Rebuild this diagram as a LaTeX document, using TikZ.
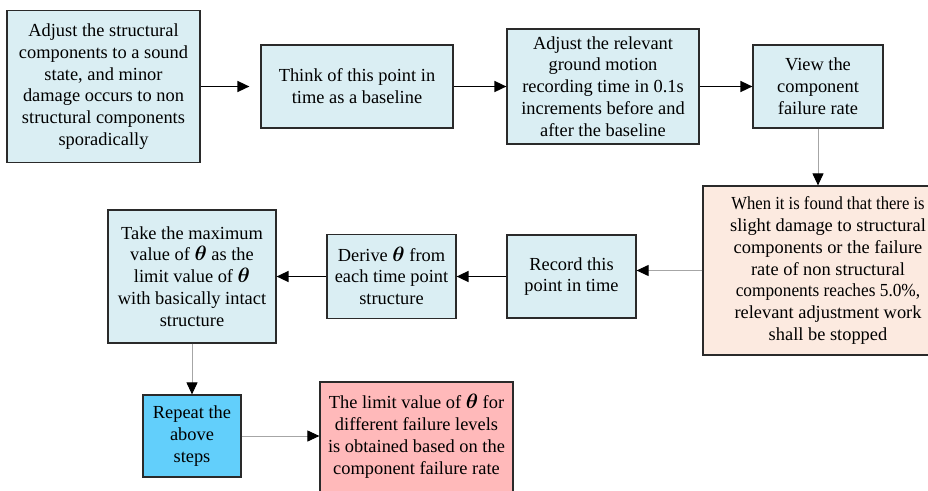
\documentclass[tikz,border=0pt]{standalone}
\usepackage{fontspec}
\setmainfont{Liberation Serif}
\usepackage{amsmath,bm,graphicx}
\usetikzlibrary{arrows.meta}
\definecolor{lb}{HTML}{DAEEF3}
\definecolor{pe}{HTML}{FCEAE0}
\definecolor{cy}{HTML}{62CFFB}
\definecolor{pk}{HTML}{FFB9BA}
\definecolor{bd}{HTML}{2A2A2A}
\definecolor{gl}{HTML}{A6A6A6}
\newcommand{\Th}{\smash{\fontsize{22}{21.5}\selectfont$\bm{\theta}$}}
\begin{document}
\begin{tikzpicture}[x=1pt,y=-1pt,
  box/.style={draw=bd, line width=1.2pt, fill=lb, inner sep=0pt, align=center,
    font=\fontsize{18.4}{21.8}\selectfont},
  darr/.style={draw=black, line width=1.6pt, -{Triangle[length=12pt,width=11pt]}},
  garr/.style={draw=gl, line width=1pt, -{Triangle[length=12pt,width=11pt,color=black]}}]
\useasboundingbox (0,0) rectangle (928,490);
\fill[white] (0,0) rectangle (928,490);
\node[box, minimum width=193pt, minimum height=152pt] (b1) at (103.5,86.5)
  {Adjust the structural\\components to a sound\\state, and minor\\damage occurs to non\\structural components\\sporadically};
\node[box, minimum width=192pt, minimum height=83pt] (b2) at (357,86.5)
  {Think of this point in\\time as a baseline};
\node[box, minimum width=192pt, minimum height=115pt] (b3) at (603,86.5)
  {Adjust the relevant\\ground motion\\recording time in 0.1s\\increments before and\\after the baseline};
\node[box, minimum width=130pt, minimum height=83pt] (b4) at (818,86.5)
  {View the\\component\\failure rate};
\node[box, fill=pe, minimum width=250pt, minimum height=169pt] (b5) at (828,270.5)
  {\scalebox{0.905}[1]{When it is found that there is}\\slight damage to structural\\components or the failure\\rate of non structural\\\scalebox{0.94}[1]{components reaches 5.0\%,}\\relevant adjustment work\\shall be stopped};
\node[box, minimum width=129pt, minimum height=83pt] (b6) at (571.5,276.5)
  {Record this\\point in time};
\node[box, minimum width=129pt, minimum height=84pt] (b7) at (391.5,276.5)
  {Derive \Th{} from\\each time point\\structure};
\node[box, minimum width=168pt, minimum height=133pt] (b8) at (192,276.5)
  {Take the maximum\\value of \Th{} as the\\limit value of \Th\\with basically intact\\structure};
\node[box, fill=cy, minimum width=98pt, minimum height=82pt] (b9) at (192,436)
  {Repeat the\\above\\steps};
\node[box, fill=pk, minimum width=193pt, minimum height=110pt] (b10) at (416.5,437)
  {The limit value of \Th{} for\\different failure levels\\is obtained based on the\\component failure rate};
\draw[darr, shorten >=11pt] (b1.east) -- (b2.west);
\draw[darr] (b2) -- (b3);
\draw[darr] (b3) -- (b4);
\draw[garr] (b4.south) -- (b4.south |- b5.north);
\draw[garr] (b5.west) -- (b5.west -| b6.east);
\draw[darr] (b6) -- (b7);
\draw[darr] (b7) -- (b8);
\draw[garr] (b8.south) -- (b9.north);
\draw[garr] (b9.east) -- (b9.east -| b10.west);
\end{tikzpicture}
\end{document}
